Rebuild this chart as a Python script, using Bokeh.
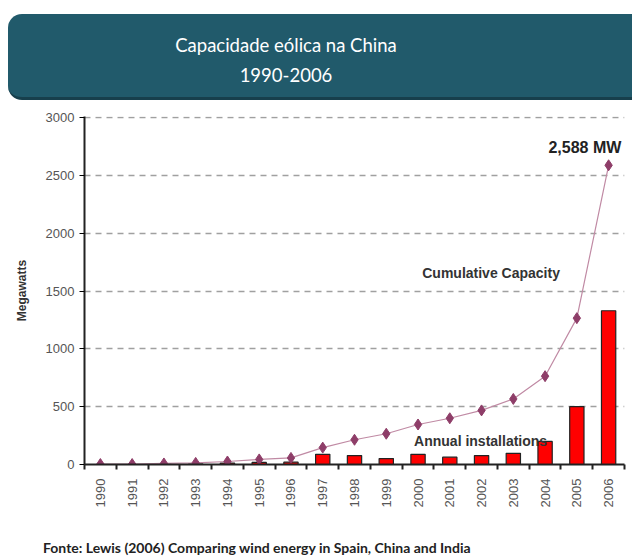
import math
from bokeh.plotting import figure
from bokeh.layouts import column
from bokeh.models import Range1d, FixedTicker, Label, Div
from bokeh.embed import file_html
from bokeh.resources import INLINE

years = ["1990", "1991", "1992", "1993", "1994", "1995", "1996", "1997", "1998",
         "1999", "2000", "2001", "2002", "2003", "2004", "2005", "2006"]
cumulative = [4, 4, 9, 14, 26, 44, 57, 146, 214, 266, 346, 400, 468, 567, 764, 1266, 2588]
annual = [0, 0, 5, 5, 12, 18, 20, 88, 77, 51, 88, 63, 77, 97, 200, 500, 1330]
y_ticks = [0, 500, 1000, 1500, 2000, 2500, 3000]

title_lines = ["Capacidade eólica na China", "1990-2006"]
source_text = "Fonte: Lewis (2006) Comparing wind energy in Spain, China and India"

idx = list(range(len(years)))

p = figure(width=632, height=422, output_backend="svg", toolbar_location=None,
           x_range=Range1d(-0.5, len(years) - 0.5), y_range=Range1d(0, 3010),
           min_border_left=84, min_border_right=8, min_border_top=8, min_border_bottom=66,
           margin=0)
p.outline_line_color = None
p.background_fill_color = "white"

# grid
p.xgrid.grid_line_color = None
p.ygrid.grid_line_color = "#a0a0a0"
p.ygrid.grid_line_dash = "6 5"
p.ygrid.grid_line_width = 1.5
p.ygrid.ticker = FixedTicker(ticks=y_ticks[1:])

# y axis
p.yaxis.ticker = FixedTicker(ticks=y_ticks)
p.yaxis.axis_line_color = "#222222"
p.yaxis.axis_line_width = 2
p.yaxis.major_tick_out = 5
p.yaxis.major_tick_in = 0
p.yaxis.minor_tick_line_color = None
p.yaxis.major_label_text_font = "Liberation Sans"
p.yaxis.major_label_text_font_size = "13px"
p.yaxis.major_label_text_color = "#555555"
p.yaxis.axis_label = "Megawatts"
p.yaxis.axis_label_text_font = "Liberation Sans"
p.yaxis.axis_label_text_font_style = "bold"
p.yaxis.axis_label_text_font_size = "12px"
p.yaxis.axis_label_text_color = "#333333"
p.yaxis.axis_label_standoff = 14

# x axis
p.xaxis.ticker = FixedTicker(ticks=idx, minor_ticks=[i - 0.5 for i in idx] + [len(idx) - 0.5])
p.xaxis.major_label_overrides = {i: y for i, y in zip(idx, years)}
p.xaxis.major_tick_line_color = None
p.xaxis.minor_tick_out = 5
p.xaxis.minor_tick_in = 0
p.xaxis.minor_tick_line_color = "#222222"
p.xaxis.minor_tick_line_width = 2
p.xaxis.axis_line_color = "#222222"
p.xaxis.axis_line_width = 2
p.xaxis.major_label_orientation = math.pi / 2
p.xaxis.major_label_text_font = "Liberation Sans"
p.xaxis.major_label_text_font_size = "13px"
p.xaxis.major_label_text_color = "#555555"
p.xaxis.major_label_standoff = 8

# bars and line
p.vbar(x=idx, top=annual, width=0.45, fill_color="#ff0000", line_color="#222222", line_width=1.2)
p.line(x=idx, y=cumulative, line_color="#c08aa4", line_width=1.2)
p.scatter(x=idx, y=cumulative, marker="diamond", size=11, fill_color="#8e3d68", line_color="#8e3d68")

# chart annotations
p.add_layout(Label(x=16.4, y=2740, text="2,588 MW", text_align="right", text_baseline="middle",
                   text_font="Liberation Sans", text_font_style="bold",
                   text_font_size="16px", text_color="#222222"))
p.add_layout(Label(x=12.3, y=1660, text="Cumulative Capacity", text_align="center", text_baseline="middle",
                   text_font="Liberation Sans", text_font_style="bold",
                   text_font_size="14px", text_color="#333333"))
p.add_layout(Label(x=11.97, y=207, text="Annual installations", text_align="center", text_baseline="middle",
                   text_font="Liberation Sans", text_font_style="bold",
                   text_font_size="14px", text_color="#333333"))

# title band
title_html = (
    '<div style="position:relative;width:632px;height:108px;overflow:hidden;background:white;">'
    '<div style="position:absolute;left:8px;top:14px;width:660px;height:86px;background:#215a6b;'
    'border-radius:14px;border-bottom:3px solid #173f4c;"></div>'
    '<div style="position:absolute;left:0;top:30px;width:572px;text-align:center;color:white;'
    'font-family:Lato;font-size:18.5px;line-height:30px;">'
    + title_lines[0] + '<br>' + title_lines[1] + '</div></div>'
)
title_div = Div(text=title_html, width=632, height=108, margin=0)

footer_html = (
    '<div style="position:relative;width:632px;height:29px;">'
    '<div style="position:absolute;left:43px;top:9px;white-space:nowrap;color:#222222;'
    'font-family:Lato;font-weight:bold;font-size:14px;line-height:18px;">'
    + source_text + '</div></div>'
)
footer_div = Div(text=footer_html, width=632, height=29, margin=0)

layout = column(title_div, p, footer_div, spacing=0, margin=0)

open("out.html", "w").write(file_html(layout, INLINE))
